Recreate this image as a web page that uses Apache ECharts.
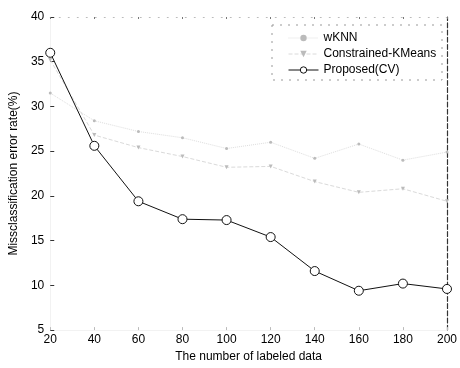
<!DOCTYPE html>
<html><head><meta charset="utf-8">
<script src="https://cdn.jsdelivr.net/npm/echarts@6/dist/echarts.min.js"></script>
<style>html,body{margin:0;padding:0;background:#fff}#c{width:460px;height:368px}</style>
</head><body><div id="c"></div>
<script>
const xValues = [20, 40, 60, 80, 100, 120, 140, 160, 180, 200];
const wknn = [31.5, 28.4, 27.2, 26.5, 25.3, 26.0, 24.2, 25.8, 24.0, 24.9];
const ckmeans = [35.2, 26.8, 25.4, 24.4, 23.2, 23.3, 21.6, 20.4, 20.8, 19.4];
const proposed = [36.0, 25.6, 19.4, 17.4, 17.3, 15.4, 11.6, 9.4, 10.2, 9.6];
const yTicks = [5, 10, 15, 20, 25, 30, 35, 40];
const xTicks = [20, 40, 60, 80, 100, 120, 140, 160, 180, 200];

const font = 'Liberation Sans, Arial, sans-serif';
const chart = echarts.init(document.getElementById('c'));
const pair = a => xValues.map((x, i) => [x, a[i]]);
chart.setOption({
  animation: false,
  backgroundColor: '#fff',
  grid: { left: 45, right: 9, top: 17, bottom: 31 },
  xAxis: [{
    type: 'value', min: xTicks[0], max: xTicks[xTicks.length - 1], interval: 20,
    name: 'The number of labeled data', nameLocation: 'middle', nameGap: 17,
    nameTextStyle: { fontFamily: font, fontSize: 12, color: '#000' },
    axisLine: { show: true, lineStyle: { color: '#f2f2f2', width: 1 } },
    axisTick: { show: true, inside: true, length: 3, lineStyle: { color: '#bbb' } },
    axisLabel: { fontFamily: font, fontSize: 12, color: '#000', margin: 4 },
    splitLine: { show: false }
  }, {
    type: 'value', position: 'top', min: 20, max: 200, interval: 20,
    axisLine: { show: true, lineStyle: { color: '#bbb', type: [1, 8] } },
    axisTick: { show: true, inside: true, length: 2, lineStyle: { color: '#777' } },
    axisLabel: { show: false }, splitLine: { show: false }
  }],
  yAxis: [{
    type: 'value', min: yTicks[0], max: yTicks[yTicks.length - 1], interval: 5,
    name: 'Missclassification error rate(%)', nameLocation: 'middle', nameGap: 27,
    nameTextStyle: { fontFamily: font, fontSize: 12, color: '#000' },
    axisLine: { show: true, lineStyle: { color: '#f2f2f2' } },
    axisTick: { show: true, inside: true, length: 4, lineStyle: { color: '#333' } },
    axisLabel: { fontFamily: font, fontSize: 12, color: '#000', margin: 6 },
    splitLine: { show: false }
  }, {
    type: 'value', position: 'right', min: 5, max: 40, interval: 5,
    axisLine: { show: true, lineStyle: { color: '#333', type: 'dashed', width: 1.2 } },
    axisTick: { show: false }, axisLabel: { show: false }, splitLine: { show: false }
  }],
  legend: {
    orient: 'vertical', left: 283, top: 27, itemGap: 4, itemWidth: 30, itemHeight: 8,
    textStyle: { fontFamily: font, fontSize: 12, color: '#000' },
    itemStyle: { borderWidth: 1 },
    lineStyle: { width: 1 },
    data: ['wKNN', 'Constrained-KMeans', 'Proposed(CV)']
  },
  graphic: [{
    type: 'rect', shape: { x: 272, y: 25, width: 170, height: 55 },
    style: { fill: 'none', stroke: '#999', lineWidth: 1, lineDash: [2, 6] }, z: 10
  }],
  series: [{
    name: 'wKNN', type: 'line', data: pair(wknn), symbol: 'circle', symbolSize: 3,
    lineStyle: { color: '#dedede', width: 1, type: 'dotted' },
    itemStyle: { color: '#bbb', borderWidth: 0 }
  }, {
    name: 'Constrained-KMeans', type: 'line', data: pair(ckmeans), symbol: 'triangle', symbolRotate: 180, symbolSize: 4,
    lineStyle: { color: '#dadada', width: 1, type: 'dashed' },
    itemStyle: { color: '#bbb', borderWidth: 0 }
  }, {
    name: 'Proposed(CV)', type: 'line', data: pair(proposed), symbol: 'circle', symbolSize: 9,
    lineStyle: { color: '#111', width: 1, type: 'solid' },
    itemStyle: { color: '#fff', borderColor: '#111', borderWidth: 1 }
  }]
});
</script></body></html>
